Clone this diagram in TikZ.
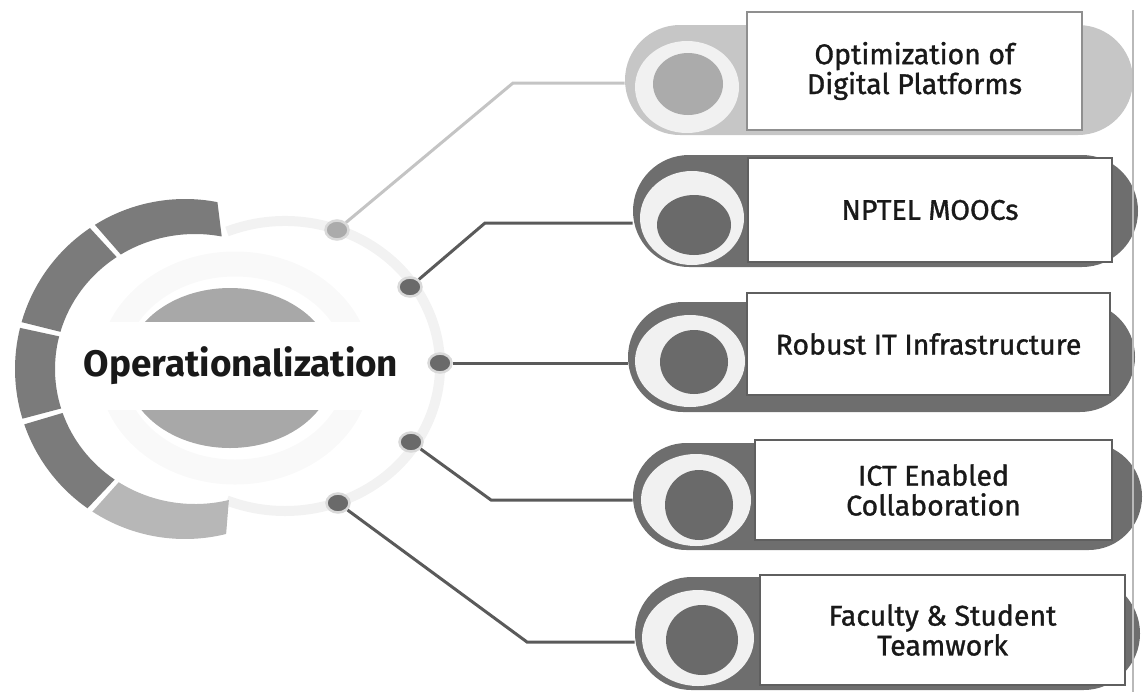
\documentclass[tikz,border=0pt]{standalone}
\usepackage{fontspec}
\setmainfont{Fira Sans}
\newfontfamily\itemfont{Fira Sans}[FakeBold=1.1]
\usetikzlibrary{positioning,calc,shapes.misc,shapes.geometric}
\tikzset{font=\itemfont\fontsize{16.2}{17}\selectfont}

\definecolor{segdark}{HTML}{7B7B7B}
\definecolor{seglight}{HTML}{B7B7B7}
\definecolor{discgray}{HTML}{A8A8A8}
\definecolor{capdark}{HTML}{6E6E6E}
\definecolor{caplight}{HTML}{C6C6C6}
\definecolor{coredark}{HTML}{6A6A6A}
\definecolor{corelight}{HTML}{ABABAB}
\definecolor{ringwhite}{HTML}{F1F1F1}
\definecolor{linedark}{HTML}{5A5A5A}
\definecolor{linelight}{HTML}{C4C4C4}
\definecolor{boxline}{HTML}{5F5F5F}

\tikzset{
	capsule/.style={rounded rectangle, inner sep=0pt},
	itembox/.style={draw=boxline, fill=white, line width=0.35mm, align=center, inner sep=2pt, text=black!90},
	hubdot/.style={ellipse, draw=white!85!black, line width=0.5mm, fill=coredark, minimum width=4.6mm, minimum height=3.8mm, inner sep=0pt},
	branch/.style={draw=linedark, line width=0.6mm},
	branchlight/.style={draw=linelight, line width=0.6mm},
}

\begin{document}
\begin{tikzpicture}[x=0.2mm, y=-0.2mm]
	\useasboundingbox (0,0) rectangle (1145,692);

	% hub
	\draw[gray!5, line width=5mm] (235,368) ellipse [x radius=124, y radius=104];
	\draw[gray!10, line width=2mm] (285,366) ++(-112:155 and 145) arc[start angle=-112, end angle=112, x radius=155, y radius=145];
	\fill[discgray] (230,368) ellipse [x radius=104, y radius=80];
	\fill[white] (58,322) rectangle (380,410);
	\foreach \a/\b/\c in {-79/-122/segdark, -124/-164/segdark, -166/-197/segdark, -199/-235/segdark, -237/-284/seglight}
		\fill[\c] ($(185,369)+(\a:170)$) arc[start angle=\a, end angle=\b, radius=170]
			-- ($(195,369)+(\b:140 and 135)$) arc[start angle=\b, end angle=\a, x radius=140, y radius=135] -- cycle;
	\node[font=\rmfamily\bfseries\fontsize{21}{23}\selectfont, text=black!90] (hub) at (241,366) {Operationalization};

	\node[hubdot, fill=corelight] (d1) at (337,230) {};
	\node[hubdot] (d2) at (410,287) {};
	\node[hubdot] (d3) at (440,363) {};
	\node[hubdot] (d4) at (411,442) {};
	\node[hubdot] (d5) at (338,503) {};

	% capsules
	\node[capsule, fill=caplight, minimum width=101.6mm, minimum height=22mm] (c1) at (879,80) {};
	\node[capsule, fill=capdark, minimum width=101mm, minimum height=22.4mm] (c2) at (885.5,211) {};
	\node[capsule, fill=capdark, minimum width=101.4mm, minimum height=22mm] (c3) at (881.5,357) {};
	\node[capsule, fill=capdark, minimum width=101.8mm, minimum height=21.4mm] (c4) at (887.5,496.5) {};
	\node[capsule, fill=capdark, minimum width=101mm, minimum height=22.6mm] (c5) at (887.5,633.5) {};

	\fill[ringwhite] (687,87) ellipse [x radius=52, y radius=46];
	\fill[corelight] (688,84) ellipse [x radius=35, y radius=31];
	\fill[ringwhite] (692,218) ellipse [x radius=52, y radius=47];
	\fill[coredark] (694,225) ellipse [x radius=37, y radius=30];
	\fill[ringwhite] (690,361) ellipse [x radius=55, y radius=46];
	\fill[coredark] (694,362) ellipse [x radius=34, y radius=32];
	\fill[ringwhite] (696,500) ellipse [x radius=55, y radius=46];
	\fill[coredark] (699,505) ellipse [x radius=34, y radius=35];
	\fill[ringwhite] (698,638) ellipse [x radius=56, y radius=48];
	\fill[coredark] (702,640) ellipse [x radius=36, y radius=35];

	\node[itembox, draw=boxline!70, minimum width=67mm, minimum height=23.6mm] (r1) at (914.5,71) {Optimization of\\Digital Platforms};
	\node[itembox, minimum width=72.8mm, minimum height=20.8mm] (r2) at (930,210) {NPTEL MOOCs};
	\node[itembox, minimum width=72.6mm, minimum height=20.4mm] (r3) at (928.5,344) {Robust IT Infrastructure};
	\node[itembox, minimum width=71.4mm, minimum height=20mm] (r4) at (933.5,490) {ICT Enabled\\Collaboration};
	\node[itembox, minimum width=73mm, minimum height=22mm] (r5) at (942.5,630) {Faculty \& Student\\Teamwork};

	% branches
	\coordinate (k1) at (513,83);
	\coordinate (k2) at (485,223);
	\coordinate (k4) at (491,500);
	\coordinate (k5) at (527,642);
	\draw[branchlight] (d1) -- (k1) -- (k1 -| c1.west);
	\draw[branch] (d2) -- (k2) -- (k2 -| c2.west);
	\draw[branch] (d3) -- (d3 -| c3.west);
	\draw[branch] (d4) -- (k4) -- (k4 -| c4.west);
	\draw[branch] (d5) -- (k5) -- (k5 -| c5.west);

	\draw[gray!55, line width=0.3mm] (1133,10) -- (1133,692);
\end{tikzpicture}
\end{document}
